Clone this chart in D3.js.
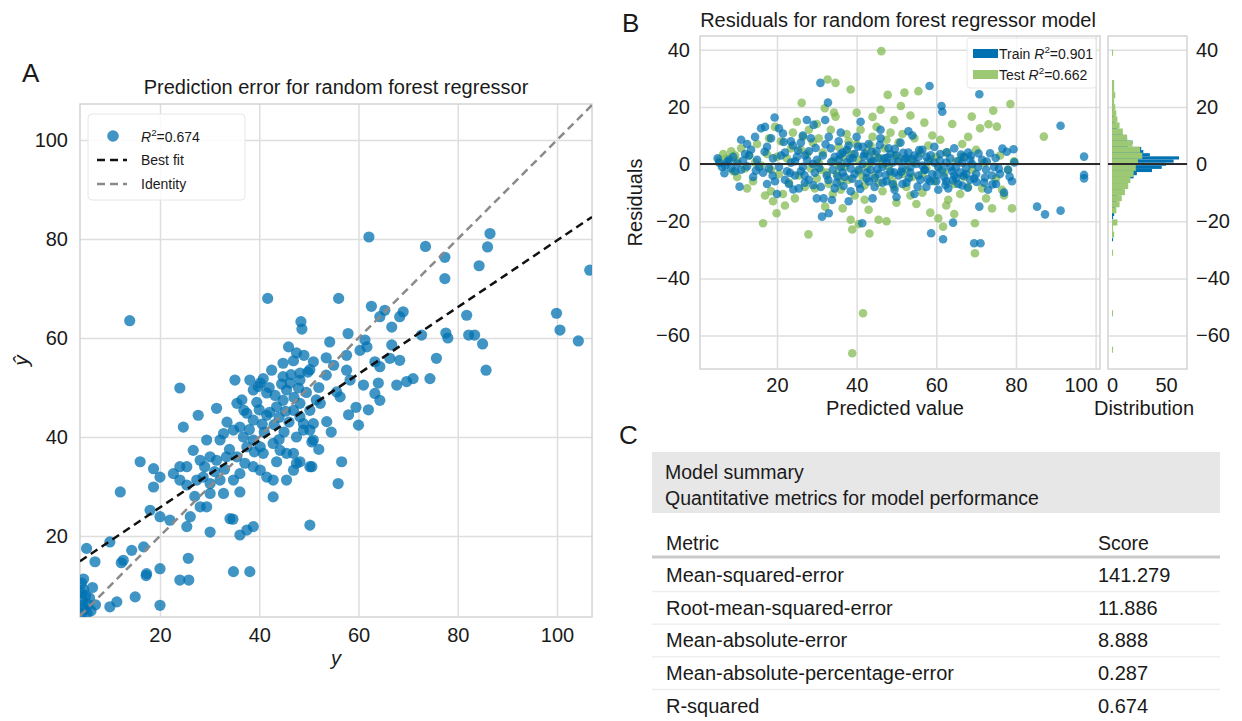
<!DOCTYPE html>
<html>
<head>
<meta charset="utf-8">
<script src="https://cdn.jsdelivr.net/npm/d3@7"></script>
<style>
  body { margin: 0; background: #fff; }
  svg { display: block; font-family: "Liberation Sans", Arial, Helvetica, sans-serif; }
</style>
</head>
<body>
<div id="chart"></div>
<script>
// ---------- data ----------
// panel A: [actual y, predicted y-hat] on the test set
const predError = [
  [4.2,10.5],[4.6,9.2],[5.0,8.0],[4.3,7.0],[5.5,6.2],[4.8,5.2],[4.2,4.3],[6.1,4.9],[5.8,7.5],[6.4,9.6],
  [4.6,11.3],[7.0,6.1],[4.0,8.6],[5.3,4.4],[4.4,6.0],
  [5.2,17.5],[6.9,14.8],[9.9,18.8],[12.6,15.1],[12.2,14.6],[14.3,17.1],[16.7,17.8],[17.3,12.4],[17.2,12.0],
  [20.0,13.4],[24.0,11.1],[25.8,11.1],[25.7,15.5],[34.8,12.8],[38.1,12.8],[15.0,7.7],[11.3,6.7],[9.9,5.7],
  [20.0,6.0],[12.0,28.9],
  [18.0,25.2],[20.0,23.9],[22.0,23.2],[26.1,23.9],[25.4,21.9],[30.1,20.8],[34.1,23.5],[34.7,23.4],[36.1,20.2],
  [37.5,21.2],[38.8,21.9],[28.1,25.9],[29.4,25.9],[30.1,28.6],[32.8,28.6],[36.1,28.9],[34.8,31.3],[18.7,33.6],
  [20.0,31.9],[18.7,29.9],[16.0,35.0],[22.7,32.6],[24.0,31.3],[25.4,30.3],[27.4,31.3],[28.7,31.9],[30.1,30.6],
  [32.1,31.3],[36.1,32.6],[26.7,37.3],[24.0,34.0],[25.4,34.0],[28.1,35.3],[30.1,36.0],[31.4,35.3],[33.4,36.0],
  [35.5,36.0],[37.1,34.7],[38.8,34.0],[40.2,33.3],[41.5,31.9],[42.8,31.3],[45.5,31.3],[47.5,34.7],[46.9,33.3],
  [50.2,34.0],[40.2,38.0],[40.8,36.7],[42.8,38.7],[44.2,37.3],[45.5,36.7],[46.9,36.7],[42.8,27.9],[50.2,22.2],
  [37.5,44.8],[38.8,43.4],[36.1,42.0],[34.8,41.4],[32.8,40.7],[29.4,39.4],[32.1,39.4],[36.8,40.0],[38.8,39.4],
  [41.5,44.4],[43.5,46.1],[44.8,47.4],[46.9,45.4],[48.2,46.8],[50.2,45.4],[48.9,42.7],[50.2,41.4],[50.9,39.4],
  [35.1,51.5],[38.1,51.5],[40.2,50.9],[38.8,49.5],[41.5,48.9],[44.8,52.2],[46.2,50.9],[48.2,51.5],[35.5,46.8],
  [31.4,45.8],[27.7,44.4],[24.7,42.0],[24.0,49.9],
  [45.9,58.2],[44.8,54.9],[46.9,55.4],[50.9,55.2],[50.2,53.6],[48.2,52.9],[40.8,51.8],[41.7,68.0],[48.4,63.3],
  [48.6,61.8],[13.9,63.5],
  [39.5,47.0],[42.0,50.0],[43.0,42.5],[44.0,44.0],[45.5,49.5],[47.0,48.0],[49.5,49.0],[46.0,43.0],[41.0,41.0],
  [39.0,37.0],[43.5,35.0],[47.5,40.0],[52.0,50.0],[53.5,52.5],[51.5,47.5],[49.0,56.5],[47.5,57.0],[44.0,39.5],
  [37.5,38.0],[34.0,37.5],[33.0,33.5],[31.0,33.0],[27.0,28.0],[29.0,34.0],[36.5,47.5],[33.5,43.0],[42.5,53.5],
  [40.0,45.5],[45.0,41.0],[38.0,41.5],[40.6,42.6],[43.2,48.4],[45.3,45.2],[46.4,52.6],[42.1,45.0],[39.8,50.2],
  [47.9,49.9],[49.8,53.1],[36.9,45.4],[44.5,50.7],
  [48.9,41.4],[48.2,44.1],[48.2,35.0],[53.6,43.1],[60.0,42.4],[50.9,42.7],[50.6,39.0],[56.6,35.0],[55.9,30.6],
  [50.6,34.0],[52.3,46.8],[55.6,49.1],[56.3,48.1],[61.0,50.5],[64.0,50.9],[63.3,48.8],[64.3,47.4],[67.7,50.5],
  [69.7,51.2],[71.0,51.8],[74.4,51.8],[58.3,51.5],[68.3,55.5],[66.3,55.9],[64.3,54.2],[63.3,55.2],[66.7,58.6],
  [57.6,56.5],[57.6,53.5],[61.3,59.6],[61.7,58.2],[60.3,57.5],[54.2,59.2],[57.9,60.9],[65.3,65.6],[64.3,64.3],
  [66.7,62.2],[68.3,64.3],[69.0,65.3],[62.6,66.4],[72.7,60.6],[56.0,68.0],[62.1,80.4],[73.5,78.5],[86.5,81.1],
  [86.0,78.4],[77.4,76.3],[77.4,72.0],[84.3,74.6],[106.6,73.7],[81.8,64.6],[99.9,65.0],[100.6,61.6],[104.3,59.4],
  [78.0,60.0],[77.6,61.0],[82.2,60.6],[83.4,60.6],[85.0,58.8],[85.7,53.5],[75.7,55.9],[53.5,56.0],[55.0,54.5],
  [59.5,46.0],[58.0,44.5],[62.0,45.5],[54.5,41.0],[52.0,37.5]
];
const bestFit = { intercept: 12.3, slope: 0.674 };
const r2Test = "0.674";

// panel B: [predicted value, residual]
const trainResid = [
  [5.1,2.0],[5.5,0.5],[6.2,-1.0],[6.8,-3.2],[7.5,0.8],[8.5,-1.5],[9.0,2.5],[10.0,0.2],[10.6,-7.9],[11.0,-2.0],
  [11.5,1.2],[12.0,3.5],[12.5,-0.8],[11.0,8.5],[12.5,7.0],[13.5,5.0],[14.0,-4.5],[14.5,9.5],[15.0,1.5],[16.0,12.5],
  [16.5,-3.0],[17.0,13.0],[17.5,6.0],[18.0,-1.5],[18.5,9.0],[19.0,2.0],[19.4,16.3],[19.5,-6.0],[20.0,-10.5],
  [20.5,12.5],[21.5,10.7],[22.0,4.0],[22.5,-2.5],[23.0,-7.0],[23.5,0.5],[24.0,6.5],[24.5,-4.0],[25.0,2.5],
  [25.5,-8.5],[26.0,7.5],[26.5,-1.0],[27.0,3.0],[27.5,15.4],[28.0,-5.5],[28.5,9.0],[29.2,13.7],[29.5,-3.0],
  [30.0,1.5],[30.9,28.4],[31.0,-8.0],[31.3,-18.4],[31.7,-12.0],[32.1,15.4],[32.8,21.5],[33.0,-17.2],[33.5,5.5],
  [33.8,-12.6],[34.0,-2.0],[34.5,2.5],[35.0,-6.5],[35.5,8.0],[36.0,-1.0],[36.5,4.0],[37.0,-4.5],[37.5,0.5],
  [38.0,6.5],[38.5,-9.5],[39.0,2.0],[39.5,-3.5],[40.0,9.5],[40.5,-7.0],[41.0,14.8],[41.4,-20.7],[41.5,0.0],
  [42.0,3.5],[42.5,-5.0],[43.0,7.0],[43.5,-2.0],[44.0,1.0],[44.5,-8.0],[45.0,4.5],[45.5,-3.5],[46.0,9.0],
  [46.5,-1.0],[47.0,2.0],[47.5,-6.0],[48.0,5.5],[48.5,-2.5],[49.0,0.5],[49.5,-9.0],[50.0,3.0],[50.5,-4.0],
  [51.0,7.5],[51.5,-1.5],[52.0,1.5],[52.5,-6.5],[53.0,4.0],[53.5,-3.0],[54.0,10.0],[54.5,-10.5],[55.0,0.0],
  [55.5,2.5],[56.0,-5.5],[56.5,5.0],[57.0,-2.0],[57.5,-8.0],[58.0,1.0],[58.3,27.3],[58.7,-24.2],[59.0,-3.5],
  [59.5,6.0],[60.0,-6.0],[60.5,-1.0],[61.0,3.5],[61.3,20.3],[61.5,18.3],[61.7,-26.3],[62.0,-4.5],[62.5,0.5],
  [63.0,-8.5],[63.5,2.0],[64.0,-2.5],[64.2,-20.5],[64.5,5.5],[65.0,-5.0],[65.5,1.0],[66.0,-3.0],[66.5,-7.5],
  [67.0,2.5],[67.5,-1.5],[68.0,4.0],[68.5,-5.5],[69.0,0.0],[69.5,-27.7],[70.0,-3.5],[70.8,24.4],[70.8,-14.9],
  [71.1,-27.7],[71.5,1.5],[72.0,-6.5],[72.5,-2.0],[73.0,-9.0],[73.5,3.8],[74.0,-4.0],[74.5,-1.0],[75.0,-7.0],
  [76.0,-3.5],[77.0,-10.0],[77.7,4.3],[78.0,-2.0],[79.4,5.2],[79.0,-6.0],[85.3,-14.9],[87.3,-17.6],[91.2,-16.3],
  [91.2,13.4],[97.1,2.6],[97.1,-3.8],[97.1,-5.0],
  [20.5,-1.0],[21.0,3.0],[22.0,-5.5],[23.5,8.0],[24.5,1.0],[26.0,-2.5],[27.0,-6.5],[28.0,4.5],[29.0,0.0],
  [31.5,3.0],[32.5,-4.0],[33.0,9.5],[34.5,-8.5],[35.5,1.5],[36.5,-3.0],[37.5,5.0],[38.5,-1.5],[39.5,3.5],
  [40.5,-2.0],[41.5,6.0],[42.5,-3.0],[43.5,1.5],[44.5,-5.0],[45.5,2.0],[46.5,-6.5],[47.5,0.5],[48.5,3.5],
  [49.5,-3.0],[50.5,1.0],[51.5,-7.0],[52.5,2.0],[53.5,-1.0],[54.5,3.0],[55.5,-4.0],[56.5,-0.5],[57.5,2.5],
  [58.5,-6.0],[59.5,0.5],[60.5,-9.0],[61.5,-2.0],[62.5,-6.0],[63.5,-1.0],[64.5,-4.0],[65.5,-7.0],[66.5,0.5],
  [67.5,-3.5],[68.5,1.5],[69.5,-5.0],[70.5,-1.0],[46.0,12.0],[44.0,-12.0],[50.0,-11.5],[53.0,11.5],[38.0,-13.0],
  [36.0,11.0],[30.0,-12.0],[26.5,10.0],[17.5,-7.0],[15.5,-1.0],[13.0,3.0],[8.0,1.5],[7.0,-0.5],[9.5,-2.5],
  [25.3,4.7],[26.9,-3.9],[27.6,1.3],[29.1,-7.4],[29.7,5.6],[30.6,-1.4],[32.2,6.9],[32.9,-5.6],[33.6,0.7],
  [35.2,-4.3],[35.9,3.3],[36.7,-7.7],[38.3,1.9],[38.9,-5.1],[40.3,6.1],[40.9,-8.7],[41.8,2.7],[43.1,-6.1],
  [43.7,4.3],[45.2,-1.7],[45.8,6.7],[47.3,-3.9],[47.7,2.3],[49.1,-7.1],[49.6,5.3],[51.2,-2.7],[51.7,3.9],
  [53.1,-4.9],[53.9,1.7],[55.3,-7.9],[55.7,4.9],[57.2,-2.1],[57.9,-5.3],[58.6,3.1],[60.2,-3.7],[60.9,1.1],
  [62.3,-7.3],[62.7,4.1],[64.1,-5.7],[64.9,-1.1],[66.2,3.3],[66.8,-4.1],[67.9,-8.3],[68.7,2.9],[70.1,-6.3],
  [70.6,3.7],[72.2,-4.7],[72.7,0.9],[74.1,-7.1],[74.9,2.1],[75.7,-1.6],[76.6,5.4],[78.4,-4.4],[79.6,0.6],
  [21.7,7.7],[23.3,-3.1],[24.1,-8.9],[18.9,-4.1],[16.9,4.3],[14.7,-2.3]
];
const testResid = [
  [5.5,1.5],[6.5,3.5],[7.5,2.0],[8.5,4.5],[9.0,-2.5],[10.0,1.0],[11.0,5.5],[12.0,-1.5],[13.0,3.0],[10.0,-4.5],
  [14.0,-6.0],[15.0,7.0],[16.0,-0.5],[16.5,-20.7],[17.0,-11.0],[17.5,3.5],[18.0,9.0],[18.5,-9.5],[19.0,-13.0],
  [19.5,13.0],[19.9,-17.2],[20.5,-3.5],[21.0,8.0],[21.5,-10.5],[22.0,-14.5],[22.5,2.0],[23.0,-6.5],[24.0,11.0],
  [24.5,-12.0],[25.0,14.8],[25.5,-4.0],[26.0,5.0],[26.2,21.4],[27.0,-8.0],[27.5,3.5],[27.9,-24.6],[28.5,-1.5],
  [29.0,7.5],[30.0,-5.0],[30.5,9.0],[31.0,-2.0],[31.5,4.0],[32.1,-14.9],[32.7,29.6],[33.0,-7.0],[33.5,12.0],
  [34.0,1.0],[34.3,18.0],[34.7,16.6],[34.7,28.4],[35.0,-3.5],[35.5,6.0],[36.0,-9.0],[36.5,2.5],[37.0,-1.0],
  [37.5,10.5],[38.0,-5.5],[38.5,26.1],[38.9,-22.9],[38.9,-66.2],[39.0,3.5],[39.5,-11.0],[40.0,7.0],[40.5,-2.5],
  [41.0,12.0],[41.6,-52.2],[42.0,-7.5],[42.5,4.0],[43.0,-16.0],[43.2,-24.3],[43.5,0.5],[44.0,9.5],[44.5,-4.0],
  [45.0,13.0],[45.5,-19.5],[46.0,2.0],[46.2,39.5],[46.5,-9.5],[47.0,5.5],[47.5,-20.0],[47.8,24.2],[48.0,-1.0],
  [48.5,11.0],[49.0,-6.0],[49.4,15.4],[49.5,3.0],[50.0,-13.5],[50.5,7.5],[51.1,20.3],[51.5,-3.5],[52.0,25.0],
  [52.5,-8.0],[53.0,1.5],[53.5,17.0],[54.0,-4.5],[54.5,9.0],[55.0,-14.0],[55.5,25.5],[56.0,4.0],[56.5,-10.0],
  [57.0,14.5],[57.5,-1.5],[58.0,6.5],[58.5,-17.0],[59.0,10.0],[59.5,-6.0],[60.0,2.5],[60.5,-19.0],[61.0,8.5],
  [61.7,-21.9],[62.0,-3.0],[62.5,4.0],[63.0,-12.5],[64.0,14.0],[64.5,-7.0],[65.0,1.0],[66.0,-10.5],[66.5,7.0],
  [67.0,-4.5],[68.0,9.5],[68.9,16.6],[69.0,-2.0],[69.7,-20.7],[69.7,-31.2],[70.0,5.0],[71.0,12.5],[71.5,-8.5],
  [72.0,0.5],[73.1,13.9],[74.3,18.7],[75.2,13.1],[75.0,-5.0],[76.0,3.0],[77.0,-11.0],[78.0,-2.0],[78.6,21.0],
  [79.0,-15.5],[79.5,1.0],[87.0,9.6],
  [30.5,0.5],[32.5,-3.0],[35.5,-0.5],[37.5,4.5],[40.5,1.5],[42.5,-1.0],[44.5,3.5],[46.5,0.0],[48.5,-3.5],
  [50.5,2.0],[52.5,-2.0],[54.5,0.5],[56.5,-3.5],[58.5,1.5],[60.5,-1.0],[41.5,-4.5],[43.5,6.5],[45.5,-6.5],
  [47.5,8.5],[49.5,-8.0],[51.5,10.5],[53.5,-11.0],[36.0,-6.0],[38.0,8.0],[34.0,-10.5],[29.5,-8.5],[26.5,9.5],
  [23.5,5.5],[20.0,2.5],[18.5,-2.0],[14.5,0.5],[12.5,-8.5],[9.5,3.0],[62.5,-14.5],[64.5,-17.5],[66.5,2.5],
  [68.0,-8.0],[72.5,-12.0],[74.0,-15.5],[76.5,-9.0],[30.0,14.0],[32.0,19.5],[28.0,12.0],[44.0,16.5],[46.0,19.0],
  [40.0,18.0],[42.0,-12.5],[38.5,-19.5],[40.5,-21.0],[36.5,-15.5]
];
const r2Train = "0.901";
const r2TestB = "0.662";

// residual histograms (50 bins each), counts per bin
const trainBinStart = -27, trainBinWidth = 1.1;
const trainHist = [1,0,1,0,0,1,0,1,2,3, 3,3,4,5,5,7,9,13,13,14, 20,23,37,46,50,57,62,35,29,27,
                   15,19,14,10,7,5,4,3,3,2, 2,1,2,1,1,0,1,0,0,1];
const testBinStart = -66, testBinWidth = 2.12;
const testHist = [1,0,0,0,0,0,1,0,0,0, 0,0,0,0,0,0,1,0,0,2, 1,5,0,4,7,9,12,15,17,20,
                  22,24,28,26,19,14,10,7,5,4, 3,2,3,2,2,0,0,0,0,1];

// panel C
const metricNames = ["Mean-squared-error", "Root-mean-squared-error", "Mean-absolute-error",
                     "Mean-absolute-percentage-error", "R-squared"];
const metricScores = ["141.279", "11.886", "8.888", "0.287", "0.674"];

const ticksA = [20, 40, 60, 80, 100];
const ticksBx = [20, 40, 60, 80, 100];
const ticksBy = [-60, -40, -20, 0, 20, 40];
const ticksHist = [0, 50];

// ---------- drawing ----------
const width = 1242, height = 721;
const blue = "#0072B2", green = "#7fb84e", greenBar = "#9dc874";
const gridColor = "#dedede", frameColor = "#d4d4d4", textColor = "#1a1a1a";
const fontSize = 20;

const svg = d3.select("#chart").append("svg")
    .attr("width", width)
    .attr("height", height);

function styleAxis(g, size) {
    g.select(".domain").remove();
    g.selectAll(".tick line").attr("stroke", gridColor).attr("stroke-width", 1.5);
    g.selectAll(".tick text").attr("font-size", size).attr("fill", textColor)
        .attr("font-family", "Liberation Sans, Arial, sans-serif");
}

function clip(id, box) {
    svg.append("clipPath").attr("id", id)
        .append("rect")
        .attr("x", box.left).attr("y", box.top)
        .attr("width", box.right - box.left).attr("height", box.bottom - box.top);
}

function frame(box) {
    svg.append("rect")
        .attr("x", box.left).attr("y", box.top)
        .attr("width", box.right - box.left).attr("height", box.bottom - box.top)
        .attr("fill", "none").attr("stroke", frameColor).attr("stroke-width", 1.5);
}

function label(x, y, text, size, anchor) {
    return svg.append("text").attr("x", x).attr("y", y)
        .attr("font-size", size).attr("fill", textColor)
        .attr("text-anchor", anchor || "start").text(text);
}

function r2Text(sel, prefix, value) {
    if (prefix) sel.append("tspan").text(prefix + " ");
    sel.append("tspan").attr("font-style", "italic").text("R");
    sel.append("tspan").attr("font-size", "0.7em").attr("dy", -6).text("2");
    sel.append("tspan").attr("dy", 6).text("=" + value);
}

// ===== Panel A: prediction error =====
const boxA = { left: 80, right: 592, top: 104, bottom: 617 };
const xA = d3.scaleLinear().domain([3.88, 107.05]).range([boxA.left, boxA.right]);
const yA = d3.scaleLinear().domain([3.64, 107.27]).range([boxA.bottom, boxA.top]);

svg.append("g")
    .attr("transform", `translate(0,${boxA.bottom})`)
    .call(d3.axisBottom(xA).tickValues(ticksA).tickSize(-(boxA.bottom - boxA.top)).tickPadding(11))
    .call(g => styleAxis(g, fontSize));
svg.append("g")
    .attr("transform", `translate(${boxA.left},0)`)
    .call(d3.axisLeft(yA).tickValues(ticksA).tickSize(-(boxA.right - boxA.left)).tickPadding(12))
    .call(g => styleAxis(g, fontSize));
frame(boxA);
clip("clipA", boxA);

svg.append("g")
    .attr("clip-path", "url(#clipA)")
    .selectAll("circle")
    .data(predError)
    .join("circle")
    .attr("cx", d => xA(d[0]))
    .attr("cy", d => yA(d[1]))
    .attr("r", 5.6)
    .attr("fill", blue)
    .attr("fill-opacity", 0.75);

const lineG = svg.append("g").attr("clip-path", "url(#clipA)");
const xEnds = xA.domain();
lineG.append("line")
    .attr("x1", xA(xEnds[0])).attr("y1", yA(xEnds[0]))
    .attr("x2", xA(xEnds[1])).attr("y2", yA(xEnds[1]))
    .attr("stroke", "#8a8a8a").attr("stroke-width", 2.5).attr("stroke-dasharray", "8,5");
lineG.append("line")
    .attr("x1", xA(xEnds[0])).attr("y1", yA(bestFit.intercept + bestFit.slope * xEnds[0]))
    .attr("x2", xA(xEnds[1])).attr("y2", yA(bestFit.intercept + bestFit.slope * xEnds[1]))
    .attr("stroke", "#111").attr("stroke-width", 2.5).attr("stroke-dasharray", "8,5");

// legend A
const legA = svg.append("g");
legA.append("rect").attr("x", 88).attr("y", 114).attr("width", 157).attr("height", 86)
    .attr("rx", 4).attr("fill", "#fff").attr("fill-opacity", 0.85)
    .attr("stroke", "#e6e6e6");
legA.append("circle").attr("cx", 113).attr("cy", 136).attr("r", 5.8)
    .attr("fill", blue).attr("fill-opacity", 0.75);
r2Text(label(141, 142, "", 14), "", r2Test);
legA.append("line").attr("x1", 97).attr("x2", 127).attr("y1", 160).attr("y2", 160)
    .attr("stroke", "#111").attr("stroke-width", 2.5).attr("stroke-dasharray", "8,5");
label(141, 165, "Best fit", 14);
legA.append("line").attr("x1", 97).attr("x2", 127).attr("y1", 184).attr("y2", 184)
    .attr("stroke", "#8a8a8a").attr("stroke-width", 2.5).attr("stroke-dasharray", "8,5");
label(141, 189, "Identity", 14);

label(22, 82, "A", 26);
label((boxA.left + boxA.right) / 2, 94, "Prediction error for random forest regressor", fontSize, "middle");
label((boxA.left + boxA.right) / 2, 665, "y", fontSize, "middle").attr("font-style", "italic");
label(0, 0, "ŷ", 21, "middle").attr("font-style", "italic")
    .attr("transform", `translate(28,${(boxA.top + boxA.bottom) / 2}) rotate(-90)`);

// ===== Panel B: residuals =====
const boxB = { left: 700, right: 1100, top: 36, bottom: 369 };
const xB = d3.scaleLinear().domain([0.67, 101.1]).range([boxB.left, boxB.right]);
const yB = d3.scaleLinear().domain([-71.7, 44.8]).range([boxB.bottom, boxB.top]);

svg.append("g")
    .attr("transform", `translate(0,${boxB.bottom})`)
    .call(d3.axisBottom(xB).tickValues(ticksBx).tickSize(-(boxB.bottom - boxB.top)).tickPadding(9))
    .call(g => styleAxis(g, fontSize))
    .call(g => g.selectAll(".tick text").filter(d => d === 100).attr("dx", -15));
svg.append("g")
    .attr("transform", `translate(${boxB.left},0)`)
    .call(d3.axisLeft(yB).tickValues(ticksBy).tickSize(-(boxB.right - boxB.left)).tickPadding(10))
    .call(g => styleAxis(g, fontSize));
frame(boxB);
clip("clipB", boxB);

const ptsB = svg.append("g").attr("clip-path", "url(#clipB)");
ptsB.append("g").selectAll("circle")
    .data(testResid)
    .join("circle")
    .attr("cx", d => xB(d[0]))
    .attr("cy", d => yB(d[1]))
    .attr("r", 4.3)
    .attr("fill", green)
    .attr("fill-opacity", 0.72);
ptsB.append("g").selectAll("circle")
    .data(trainResid)
    .join("circle")
    .attr("cx", d => xB(d[0]))
    .attr("cy", d => yB(d[1]))
    .attr("r", 4.3)
    .attr("fill", blue)
    .attr("fill-opacity", 0.72);

svg.append("line")
    .attr("x1", boxB.left).attr("x2", boxB.right)
    .attr("y1", yB(0)).attr("y2", yB(0))
    .attr("stroke", "#2b2b2b").attr("stroke-width", 2);

// legend B
const legB = svg.append("g");
legB.append("rect").attr("x", 967).attr("y", 38).attr("width", 129).attr("height", 50)
    .attr("rx", 3).attr("fill", "#fff").attr("fill-opacity", 0.85).attr("stroke", "#e8e8e8");
legB.append("rect").attr("x", 973).attr("y", 49).attr("width", 25).attr("height", 9).attr("fill", blue);
legB.append("rect").attr("x", 973).attr("y", 70).attr("width", 25).attr("height", 9).attr("fill", greenBar);
r2Text(label(999, 59, "", 14), "Train", r2Train);
r2Text(label(999, 80, "", 14), "Test", r2TestB);

// histogram
const boxH = { left: 1108, right: 1187, top: 36, bottom: 369 };
const hx = d3.scaleLinear().domain([-3.7, 69.4]).range([boxH.left, boxH.right]);

svg.append("g")
    .attr("transform", `translate(${boxH.right},0)`)
    .call(d3.axisRight(yB).tickValues(ticksBy).tickSize(-(boxH.right - boxH.left)).tickPadding(9))
    .call(g => styleAxis(g, fontSize));
svg.append("g")
    .attr("transform", `translate(0,${boxH.bottom})`)
    .call(d3.axisBottom(hx).tickValues(ticksHist).tickSize(0).tickPadding(9))
    .call(g => styleAxis(g, fontSize));
frame(boxH);

const histG = svg.append("g");
histG.append("g").selectAll("rect")
    .data(trainHist)
    .join("rect")
    .attr("x", hx(0))
    .attr("y", (d, i) => yB(trainBinStart + trainBinWidth * (i + 1)))
    .attr("width", d => hx(d) - hx(0))
    .attr("height", (d, i) => yB(trainBinStart + trainBinWidth * i) - yB(trainBinStart + trainBinWidth * (i + 1)))
    .attr("fill", blue);
histG.append("g").selectAll("rect")
    .data(testHist)
    .join("rect")
    .attr("x", hx(0))
    .attr("y", (d, i) => yB(testBinStart + testBinWidth * (i + 1)))
    .attr("width", d => hx(d) - hx(0))
    .attr("height", (d, i) => yB(testBinStart + testBinWidth * i) - yB(testBinStart + testBinWidth * (i + 1)))
    .attr("fill", greenBar);
svg.append("line")
    .attr("x1", boxH.left).attr("x2", boxH.right)
    .attr("y1", yB(0)).attr("y2", yB(0))
    .attr("stroke", "#2b2b2b").attr("stroke-width", 2);

label(622, 32, "B", 26);
label(898, 27, "Residuals for random forest regressor model", fontSize, "middle");
label(895, 415, "Predicted value", fontSize, "middle");
label(1144, 415, "Distribution", fontSize, "middle");
label(0, 0, "Residuals", fontSize, "middle")
    .attr("transform", `translate(642,${(boxB.top + boxB.bottom) / 2}) rotate(-90)`);

// ===== Panel C: table =====
label(619, 444, "C", 26);
const tbl = { left: 652, right: 1220 };
svg.append("rect").attr("x", tbl.left).attr("y", 452).attr("width", tbl.right - tbl.left).attr("height", 61)
    .attr("fill", "#e7e7e7");
label(665, 479, "Model summary", 19.5);
label(665, 505, "Quantitative metrics for model performance", 19.5);
label(666, 550, "Metric", 19.5);
label(1098, 550, "Score", 19.5);
svg.append("line").attr("x1", tbl.left).attr("x2", tbl.right).attr("y1", 557).attr("y2", 557)
    .attr("stroke", "#c9c9c9").attr("stroke-width", 3);

const rowY = d3.scaleBand().domain(d3.range(metricNames.length)).range([559, 722]);
const rows = svg.append("g").selectAll("g")
    .data(metricNames)
    .join("g")
    .attr("transform", (d, i) => `translate(0,${rowY(i)})`);
rows.append("text").attr("x", 666).attr("y", rowY.bandwidth() / 2 + 7)
    .attr("font-size", 20).attr("fill", textColor).text(d => d);
rows.append("text").attr("x", 1098).attr("y", rowY.bandwidth() / 2 + 7)
    .attr("font-size", 20).attr("fill", textColor).text((d, i) => metricScores[i]);
rows.append("line").attr("x1", tbl.left).attr("x2", tbl.right)
    .attr("y1", rowY.bandwidth()).attr("y2", rowY.bandwidth())
    .attr("stroke", "#efefef").attr("stroke-width", 1.5);
</script>
</body>
</html>
